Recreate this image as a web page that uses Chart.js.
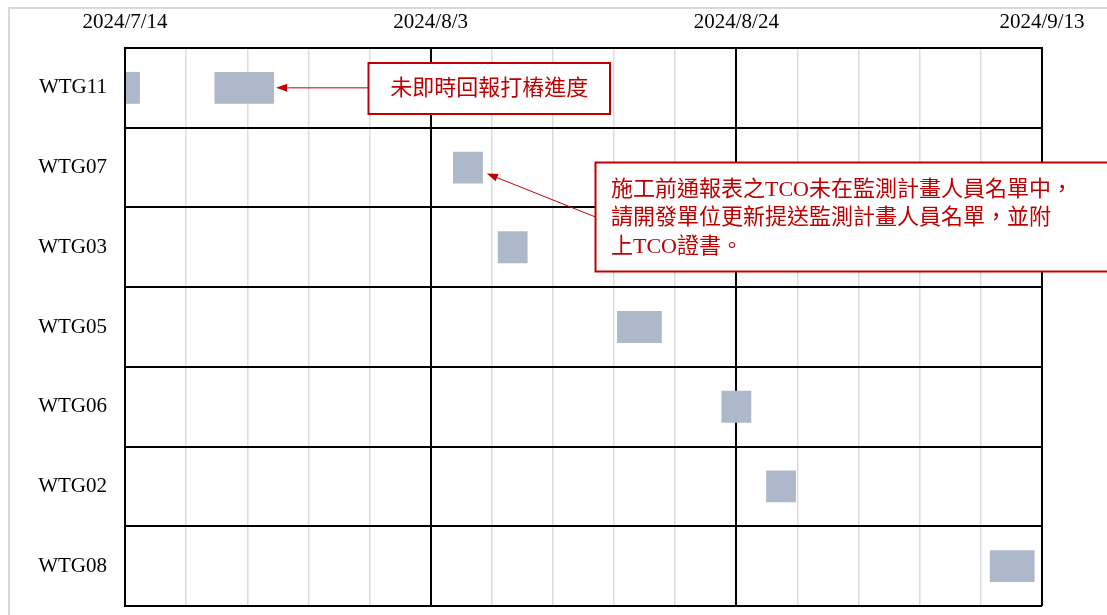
<!DOCTYPE html>
<html>
<head>
<meta charset="utf-8">
<script src="https://cdn.jsdelivr.net/npm/chart.js@4/dist/chart.umd.min.js"></script>
<style>
  html, body { margin: 0; padding: 0; background: #ffffff; }
  #wrap { width: 1107px; height: 615px; position: relative; }
</style>
</head>
<body>
<div id="wrap"><canvas id="c" width="1107" height="615"></canvas></div>
<script>
// ---- data ----
const categories = ['WTG11', 'WTG07', 'WTG03', 'WTG05', 'WTG06', 'WTG02', 'WTG08'];
const seg1Start = ['2024-07-14', '2024-08-05', '2024-08-08', '2024-08-16', '2024-08-23', '2024-08-26', '2024-09-10'];
const seg1End   = ['2024-07-15', '2024-08-07', '2024-08-10', '2024-08-19', '2024-08-25', '2024-08-28', '2024-09-13'];
const seg2Start = ['2024-07-20', null, null, null, null, null, null];
const seg2End   = ['2024-07-24', null, null, null, null, null, null];
const tickLabels = ['2024/7/14', '2024/8/3', '2024/8/24', '2024/9/13'];
const axisStart = '2024-07-14';
const majorUnitDays = 20.5;
const minorPerMajor = 5;

const note1 = ['未即時回報打樁進度'];
const note2 = ['施工前通報表之TCO未在監測計畫人員名單中，', '請開發單位更新提送監測計畫人員名單，並附', '上TCO證書。'];

// ---- helpers ----
const DAY = 86400000;
function dayOffset(s) {
  const [y, m, d] = s.split('-').map(Number);
  const [y0, m0, d0] = axisStart.split('-').map(Number);
  return (Date.UTC(y, m - 1, d) - Date.UTC(y0, m0 - 1, d0)) / DAY;
}
function toRanges(starts, ends) {
  return starts.map((s, i) => (s && ends[i]) ? [dayOffset(s), dayOffset(ends[i])] : null);
}
const axisMax = majorUnitDays * (tickLabels.length - 1);
const nTicks = minorPerMajor * (tickLabels.length - 1) + 1;

const RED = '#c00000';
const SERIF = "'Liberation Serif', 'Times New Roman', serif";
const NOTEFONT = "22px 'Liberation Serif', 'Noto Sans CJK TC', serif";

function arrow(ctx, x1, y1, x2, y2) {
  ctx.save();
  ctx.strokeStyle = RED; ctx.fillStyle = RED; ctx.lineWidth = 1;
  const ang = Math.atan2(y2 - y1, x2 - x1);
  const L = 11, W = 4;
  const bx = x2 - L * Math.cos(ang), by = y2 - L * Math.sin(ang);
  ctx.beginPath(); ctx.moveTo(x1, y1); ctx.lineTo(bx, by); ctx.stroke();
  ctx.beginPath();
  ctx.moveTo(x2, y2);
  ctx.lineTo(bx + W * Math.sin(ang), by - W * Math.cos(ang));
  ctx.lineTo(bx - W * Math.sin(ang), by + W * Math.cos(ang));
  ctx.closePath(); ctx.fill();
  ctx.restore();
}

const framePlugin = {
  id: 'frame',
  beforeDraw(chart) {
    const ctx = chart.ctx;
    ctx.save();
    ctx.strokeStyle = '#d9d9d9'; ctx.lineWidth = 2;
    ctx.beginPath();
    ctx.moveTo(9, 615); ctx.lineTo(9, 8); ctx.lineTo(1107, 8);
    ctx.stroke();
    ctx.restore();
  }
};

const notesPlugin = {
  id: 'notes',
  afterDraw(chart) {
    const ctx = chart.ctx;
    const xs = chart.scales.x, ys = chart.scales.y;
    ctx.save();
    // note 1
    const b1 = { x: 368.5, y: 63, w: 241.5, h: 51 };
    ctx.fillStyle = '#ffffff';
    ctx.fillRect(b1.x, b1.y, b1.w, b1.h);
    ctx.strokeStyle = RED; ctx.lineWidth = 2;
    ctx.strokeRect(b1.x, b1.y, b1.w, b1.h);
    ctx.fillStyle = RED; ctx.font = NOTEFONT;
    ctx.textAlign = 'center'; ctx.textBaseline = 'middle';
    ctx.fillText(note1[0], b1.x + b1.w / 2, b1.y + b1.h / 2 + 1);
    const i11 = categories.indexOf('WTG11');
    const t1x = xs.getPixelForValue(dayOffset(seg2End[i11])) + 2;
    const t1y = ys.getPixelForValue(i11);
    arrow(ctx, b1.x, t1y, t1x, t1y);
    // note 2
    const b2 = { x: 595.5, y: 162.5, w: 520, h: 109 };
    ctx.fillStyle = '#ffffff';
    ctx.fillRect(b2.x, b2.y, b2.w, b2.h);
    ctx.strokeStyle = RED; ctx.lineWidth = 2;
    ctx.strokeRect(b2.x, b2.y, b2.w, b2.h);
    ctx.fillStyle = RED; ctx.font = NOTEFONT;
    ctx.textAlign = 'left'; ctx.textBaseline = 'middle';
    note2.forEach((ln, k) => ctx.fillText(ln, 611, 190 + k * 28.5));
    const i07 = categories.indexOf('WTG07');
    const t2x = xs.getPixelForValue(dayOffset(seg1End[i07])) + 4;
    const t2y = ys.getPixelForValue(i07) + 6;
    arrow(ctx, b2.x, 217, t2x, t2y);
    ctx.restore();
  }
};

new Chart(document.getElementById('c'), {
  type: 'bar',
  data: {
    labels: categories,
    datasets: [
      { data: toRanges(seg1Start, seg1End), backgroundColor: '#adb9ca', borderWidth: 0,
        barPercentage: 0.4, categoryPercentage: 1.0, grouped: false },
      { data: toRanges(seg2Start, seg2End), backgroundColor: '#adb9ca', borderWidth: 0,
        barPercentage: 0.4, categoryPercentage: 1.0, grouped: false }
    ]
  },
  options: {
    indexAxis: 'y',
    responsive: false,
    animation: false,
    layout: { padding: { left: 0, right: 65, top: 0, bottom: 9 } },
    plugins: { legend: { display: false }, tooltip: { enabled: false } },
    scales: {
      x: {
        type: 'linear', position: 'top', min: 0, max: axisMax,
        afterBuildTicks(s) {
          s.ticks = Array.from({ length: nTicks }, (_, i) => ({ value: i * majorUnitDays / minorPerMajor }));
        },
        afterFit(s) { s.height = 48; s.paddingLeft = 0; s.paddingRight = 0; },
        ticks: {
          autoSkip: false, maxRotation: 0, minRotation: 0,
          color: '#000', padding: 13,
          font: { family: SERIF, size: 21 },
          callback: (v, i) => (i % minorPerMajor === 0 ? tickLabels[i / minorPerMajor] : '')
        },
        grid: {
          drawTicks: false,
          color: c => (c.index % minorPerMajor === 0 ? '#000000' : '#dcdcdc'),
          lineWidth: c => (c.index % minorPerMajor === 0 ? 2 : 1.5)
        },
        border: { display: true, color: '#000000', width: 2 }
      },
      y: {
        type: 'category', offset: true,
        afterFit(s) { s.width = 125; s.paddingTop = 0; s.paddingBottom = 0; },
        ticks: { color: '#000', padding: 18, font: { family: SERIF, size: 21 } },
        grid: { offset: true, drawTicks: false, color: '#000000', lineWidth: 2 },
        border: { display: true, color: '#000000', width: 2 }
      }
    }
  },
  plugins: [framePlugin, notesPlugin]
});
</script>
</body>
</html>
